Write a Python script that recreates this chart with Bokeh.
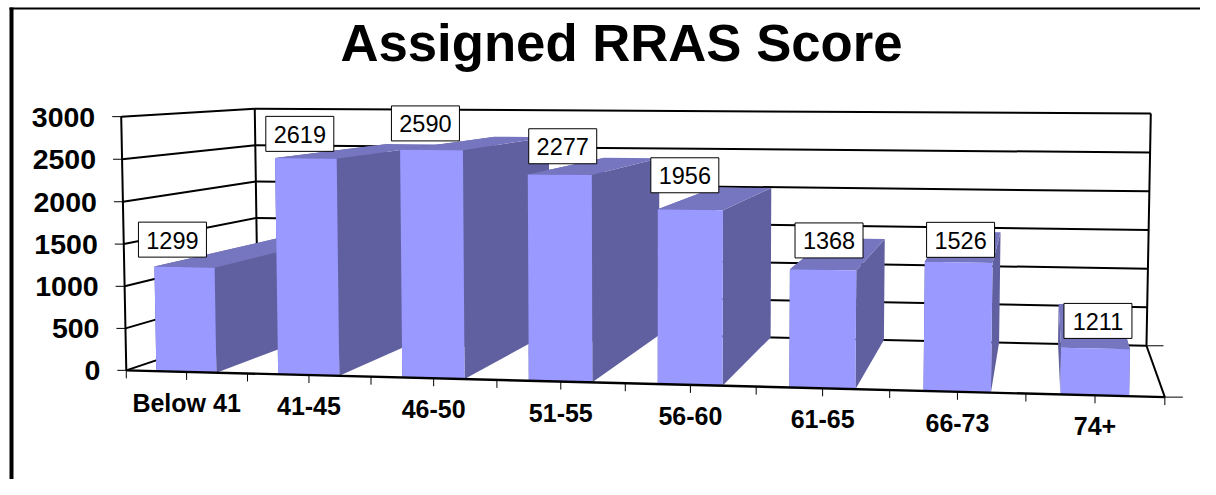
import numpy as np
from bokeh.core.properties import value
from bokeh.embed import file_html
from bokeh.plotting import figure
from bokeh.resources import INLINE

title = "Assigned RRAS Score"
categories = ["Below 41", "41-45", "46-50", "51-55", "56-60", "61-65", "66-73", "74+"]
# Heights of the bars as drawn in the picture
bar_values = [1240, 2530, 2640, 2370, 1990, 1335, 1445, 520]
# Numbers printed in the boxes of the picture
box_labels = ["1299", "2619", "2590", "2277", "1956", "1368", "1526", "1211"]
y_ticks = [0, 500, 1000, 1500, 2000, 2500, 3000]

# Layout: screen offsets of the label boxes from each bar's top front centre
box_dx = [-12, -6, -6, 3, -5.5, 6, 2, 2.5]
box_dy = [-27.5, -24.5, -26.5, -28.5, -34.5, -29.5, -22.5, -27.5]

FRONT = "#9999FF"
TOP = "#7676C0"
SIDE = "#6060A0"
FONT = value("Liberation Sans")

# Camera: perspective projection fitted to the box's corners and front-edge ticks
# (category, value, depth) -> screen pixel
cube = [(0, 0, 0, 126, 370), (8, 0, 0, 1165, 396), (0, 0, 1, 258, 327), (8, 0, 1, 1146, 345),
        (0, 3000, 0, 121, 115), (8, 3000, 0, 1170, 125), (0, 3000, 1, 254, 108), (8, 3000, 1, 1150, 112),
        (2, 0, 0, 370, 376), (4, 0, 0, 624, 382.5), (6, 0, 0, 889, 389)]
A = []
for X, Y, Z, u, v in cube:
    h = [X, Y / 1000, Z, 1]
    A.append(h + [0, 0, 0, 0] + [-u * c for c in h])
    A.append([0, 0, 0, 0] + h + [-v * c for c in h])
M = np.linalg.svd(np.array(A, float))[2][-1].reshape(3, 4)


def P(X, Y, Z):
    u, v, w = M @ np.array([X, Y / 1000, Z, 1.0])
    return float(u / w), float(v / w)


def poly(pts):
    q = [P(*c) for c in pts]
    return [a for a, _ in q], [b for _, b in q]


def seg(a, b):
    return poly([a, b])


p = figure(width=1200, height=479, x_range=(0, 1200), y_range=(479, 0), output_backend="svg",
           toolbar_location=None, min_border=0, outline_line_color=None)
p.axis.visible = False
p.grid.visible = False

# Page border
p.line([11, 11], [479, 7], line_color="black", line_width=4)
p.line([9, 1200], [8, 8], line_color="black", line_width=2)

p.text([621], [41.5], text=[title], text_font=FONT, text_font_style="bold", text_font_size="52.7px",
       text_align="center", text_baseline="middle", text_color="black")

# Walls
xmax = len(categories)
ymax = y_ticks[-1]
xs, ys = [], []
for v in y_ticks:
    for a, b in [((0, v, 0), (0, v, 1)), ((0, v, 1), (xmax, v, 1))]:
        x, y = seg(a, b)
        xs.append(x)
        ys.append(y)
for a, b in [((0, 0, 0), (0, ymax, 0)), ((0, 0, 1), (0, ymax, 1)), ((xmax, 0, 1), (xmax, ymax, 1)),
             ((xmax, 0, 0), (xmax, 0, 1))]:
    x, y = seg(a, b)
    xs.append(x)
    ys.append(y)
p.multi_line(xs, ys, line_color="black", line_width=2)

# Bars
w0, w1 = 0.25, 0.745
for i, val in enumerate(bar_values):
    a, b = i + w0, i + w1
    left = poly([(a, 0, 0), (a, val, 0), (a, val, 1), (a, 0, 1)])
    right = poly([(b, 0, 0), (b, val, 0), (b, val, 1), (b, 0, 1)])
    top = poly([(a, val, 0), (b, val, 0), (b, val, 1), (a, val, 1)])
    front = poly([(a, 0, 0), (b, 0, 0), (b, val, 0), (a, val, 0)])
    p.patches([left[0], right[0]], [left[1], right[1]], fill_color=SIDE, line_color=None)
    p.patch(top[0], top[1], fill_color=TOP, line_color=None)
    p.patch(front[0], front[1], fill_color=FRONT, line_color=None)

# Front floor edge
x, y = seg((0, 0, 0), (xmax, 0, 0))
p.line(x, y, line_color="black", line_width=2.4)

# Ticks
tx, ty = [], []
for v in y_ticks:
    u0, v0 = P(0, v, 0)
    tx.append([u0 - 9, u0])
    ty.append([v0, v0])
for k in range(2 * xmax + 1):
    u0, v0 = P(k / 2, 0, 0)
    tx.append([u0, u0])
    ty.append([v0, v0 + 8])
for z, n in [(0, 18), (1, 17)]:
    u0, v0 = P(xmax, 0, z)
    tx.append([u0, u0 + n])
    ty.append([v0, v0])
p.multi_line(tx, ty, line_color="black", line_width=1)

# Axis labels
lx, ly = zip(*[P(0, v, 0) for v in y_ticks])
p.text([a - 26 for a in lx], [b + 0.5 for b in ly], text=[f"{v}" for v in y_ticks], text_font=FONT,
       text_font_style="bold", text_font_size="28.5px", text_align="right", text_baseline="middle",
       text_color="black")
cx, cy = zip(*[P(i + 0.5, 0, 0) for i in range(xmax)])
p.text(cx, [b + 31 for b in cy], text=categories, text_font=FONT, text_font_style="bold",
       text_font_size="25px", text_align="center", text_baseline="middle", text_color="black")

# Value boxes
tops = [P(i + (w0 + w1) / 2, val, 0) for i, val in enumerate(bar_values)]
bx = [t[0] + d for t, d in zip(tops, box_dx)]
by = [t[1] + d for t, d in zip(tops, box_dy)]
p.rect(bx, by, width=68, height=35, width_units="screen", height_units="screen", fill_color="white",
       line_color="black", line_width=1)
p.text(bx, [b + 0.5 for b in by], text=box_labels, text_font=FONT, text_font_size="23.5px",
       text_align="center", text_baseline="middle", text_color="black")

open("out.html", "w").write(file_html(p, INLINE))
